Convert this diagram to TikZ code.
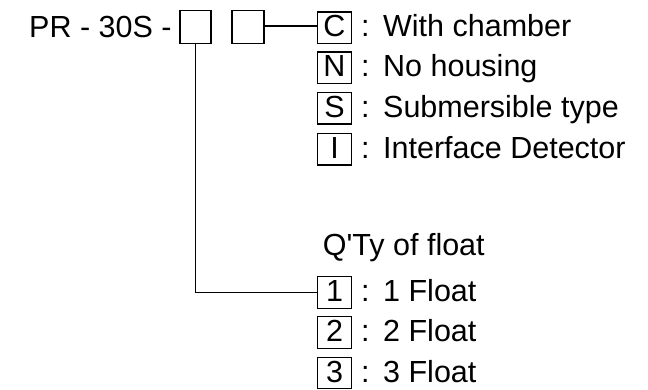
\documentclass[tikz,border=0pt]{standalone}
\usepackage{fontspec}
\setmainfont{Liberation Sans}[Ligatures=TeXOff]
\begin{document}
\begin{tikzpicture}[x=1pt,y=-1pt,
  lbl/.style={font=\fontsize{30.5}{36}\selectfont, inner sep=0pt, anchor=base west},
  codebox/.style={draw, line width=1.3pt, minimum width=34pt, minimum height=31.5pt, inner sep=0pt,
    font=\fontsize{30.5}{36}\selectfont, text height=18pt, text depth=0pt},
  conn/.style={line width=1.3pt}]
\useasboundingbox (0,0) rectangle (648,389);
\node[lbl] (pr) at (29,37) {PR - 30S -};
\node[codebox, minimum width=31pt, minimum height=32.5pt] (b1) at (195.5,27) {};
\node[codebox, minimum width=32pt, minimum height=32.5pt] (b2) at (248,27) {};
% options for second box
\node[codebox] (c) at (334.5,27.8) {C};
\node[codebox] (n) at (334.5,67.8) {N};
\node[codebox] (s) at (334.5,108.2) {S};
\node[codebox] (i) at (334.5,149.2) {I};
\node[lbl] (tc) at (361,36.8) {:\hspace{13.5pt}With chamber};
\node[lbl] (tn) at (361,76.8) {:\hspace{13.5pt}No housing};
\node[lbl] (ts) at (361,117.2) {:\hspace{13.5pt}Submersible type};
\node[lbl] (ti) at (361,158.2) {:\hspace{13.5pt}Interface Detector};
% float quantity
\node[lbl] (q) at (322.7,255) {Q'Ty of float};
\node[codebox] (f1) at (334.5,292.5) {1};
\node[codebox] (f2) at (334.5,332.5) {2};
\node[codebox] (f3) at (334.5,373) {3};
\node[lbl] (t1) at (361,301.5) {:\hspace{13.5pt}1 Float};
\node[lbl] (t2) at (361,341.5) {:\hspace{13.5pt}2 Float};
\node[lbl] (t3) at (361,382) {:\hspace{13.5pt}3 Float};
% connectors
\draw[conn] (b2.east |- 0,26) -- (c.west |- 0,26);
\draw[conn] (b1.south) |- (f1.west);
\end{tikzpicture}
\end{document}
